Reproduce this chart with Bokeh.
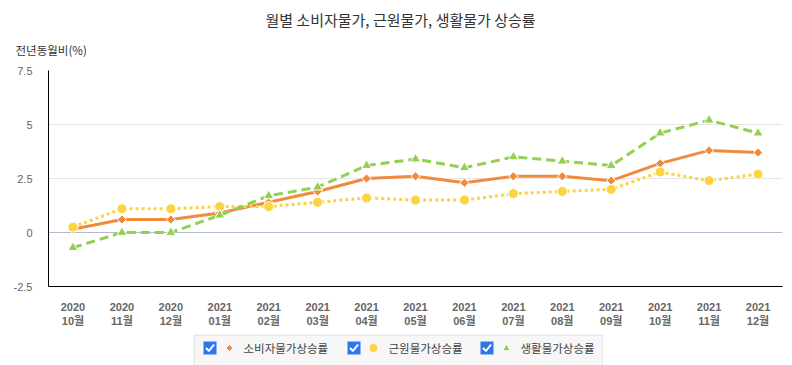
import math
from bokeh.plotting import figure
from bokeh.models import (FactorRange, Range1d, FixedTicker, NumeralTickFormatter,
                          Span, Spacer, ColumnDataSource)
from bokeh.layouts import column, row
from bokeh.embed import file_html
from bokeh.resources import INLINE
from bokeh.core.properties import value

# ---- data ----
months = ["2020\n10월", "2020\n11월", "2020\n12월",
          "2021\n01월", "2021\n02월", "2021\n03월", "2021\n04월", "2021\n05월", "2021\n06월",
          "2021\n07월", "2021\n08월", "2021\n09월", "2021\n10월", "2021\n11월", "2021\n12월"]
cpi = [0.15, 0.6, 0.6, 0.9, 1.4, 1.9, 2.5, 2.6, 2.3, 2.6, 2.6, 2.4, 3.2, 3.8, 3.7]
core = [0.25, 1.1, 1.1, 1.2, 1.2, 1.4, 1.6, 1.5, 1.5, 1.8, 1.9, 2.0, 2.8, 2.4, 2.7]
living = [-0.7, 0.0, 0.0, 0.8, 1.7, 2.1, 3.1, 3.4, 3.0, 3.5, 3.3, 3.1, 4.6, 5.2, 4.6]
series_names = ["소비자물가상승률", "근원물가상승률", "생활물가상승률"]
y_ticks = [-2.5, 0, 2.5, 5, 7.5]
title_text = "월별 소비자물가, 근원물가, 생활물가 상승률"
y_label_text = "전년동월비(%)"

ORANGE = "#f08a3e"
YELLOW = "#fcd340"
GREEN = "#92d050"
KR = "Noto Sans CJK KR"
TICKFONT = "Liberation Sans, Noto Sans CJK KR"

# ---- header (title + y-axis caption) ----
hdr = figure(width=792, height=60, x_range=Range1d(0, 792), y_range=Range1d(60, 0),
             output_backend="svg", toolbar_location=None, min_border=0,
             x_axis_location=None, y_axis_location=None)
hdr.grid.grid_line_color = None
hdr.outline_line_color = None
hdr.text(x=[400], y=[19], text=[title_text], text_font=value(KR), text_font_size="15px",
         text_color="#333333", text_align="center", text_baseline="middle")
hdr.text(x=[15], y=[49], text=[y_label_text], text_font=value(KR), text_font_size="11.5px",
         text_color="#333333", text_align="left", text_baseline="middle")

# ---- main chart ----
src = ColumnDataSource(dict(m=months, cpi=cpi, core=core, living=living))

p = figure(x_range=FactorRange(factors=months), y_range=Range1d(-2.5, 7.5),
           width=792, height=274, output_backend="svg", toolbar_location=None,
           min_border_left=48, min_border_right=10, min_border_top=10, min_border_bottom=48)
p.outline_line_color = None

p.xgrid.grid_line_color = None
p.ygrid.ticker = FixedTicker(ticks=y_ticks)
p.ygrid.grid_line_color = "#e6e6e6"

p.yaxis.ticker = FixedTicker(ticks=y_ticks)
p.yaxis.formatter = NumeralTickFormatter(format="0.[0]")
p.yaxis.axis_line_color = "black"
p.yaxis.major_tick_line_color = None
p.yaxis.minor_tick_line_color = None
p.yaxis.major_tick_out = 0
p.yaxis.major_label_standoff = 16
p.yaxis.major_label_text_color = "#666666"
p.yaxis.major_label_text_font = TICKFONT
p.yaxis.major_label_text_font_size = "11px"

p.xaxis.axis_line_color = "black"
p.xaxis.major_tick_line_color = None
p.xaxis.major_tick_out = 0
p.xaxis.major_label_standoff = 14
p.xaxis.major_label_text_color = "#666666"
p.xaxis.major_label_text_font = TICKFONT
p.xaxis.major_label_text_font_size = "11px"
p.xaxis.major_label_text_font_style = "bold"

p.add_layout(Span(location=0, dimension="width", line_color="#aebcce", line_width=1,
                  level="underlay"))

p.line("m", "cpi", source=src, line_color=ORANGE, line_width=3)
p.scatter("m", "cpi", source=src, marker="square", angle=math.pi / 4, size=6.5,
          fill_color=ORANGE, line_color="white", line_width=1)
p.line("m", "core", source=src, line_color=YELLOW, line_width=3, line_dash="3 3")
p.scatter("m", "core", source=src, marker="circle", size=10, fill_color=YELLOW,
          line_color="white", line_width=1)
p.line("m", "living", source=src, line_color=GREEN, line_width=3, line_dash="9 5")
p.scatter("m", "living", source=src, marker="triangle", size=10, fill_color=GREEN,
          line_color="white", line_width=1)

# ---- legend (checkbox style) ----
leg = figure(width=410, height=31, x_range=Range1d(0, 410), y_range=Range1d(31, 0),
             output_backend="svg", toolbar_location=None, min_border=0,
             x_axis_location=None, y_axis_location=None)
leg.grid.grid_line_color = None
leg.outline_line_color = None
leg.background_fill_color = "#f7f7f7"
leg.border_fill_color = "#f7f7f7"
leg.multi_line(xs=[[0.5, 0.5, 409.5, 409.5]], ys=[[31, 0.5, 0.5, 31]],
               line_color="#d9d9d9", line_width=1)
cb_x = [16.5, 160.5, 293.5]
leg.rect(x=cb_x, y=[13.5] * 3, width=13, height=13, fill_color="#2f76ee", line_color=None)
leg.multi_line(xs=[[x - 4, x - 1, x + 4] for x in cb_x],
               ys=[[13.5, 16.5, 10] for _ in cb_x], line_color="white", line_width=2)
leg.scatter(x=[36], y=[13.5], marker="square", angle=math.pi / 4, size=5,
            fill_color=ORANGE, line_color="white", line_width=1)
leg.scatter(x=[180], y=[13.5], marker="circle", size=9, fill_color=YELLOW,
            line_color="white", line_width=1)
leg.scatter(x=[313], y=[14], marker="triangle", size=8, fill_color=GREEN,
            line_color="white", line_width=1)
leg.text(x=[50, 195, 327], y=[13.5] * 3, text=series_names, text_font=value(KR),
         text_font_size="11.5px", text_color="#444444", text_baseline="middle")

layout = column(row(hdr), p, row(Spacer(width=193, height=31), leg))
open("out.html", "w").write(file_html(layout, INLINE))
